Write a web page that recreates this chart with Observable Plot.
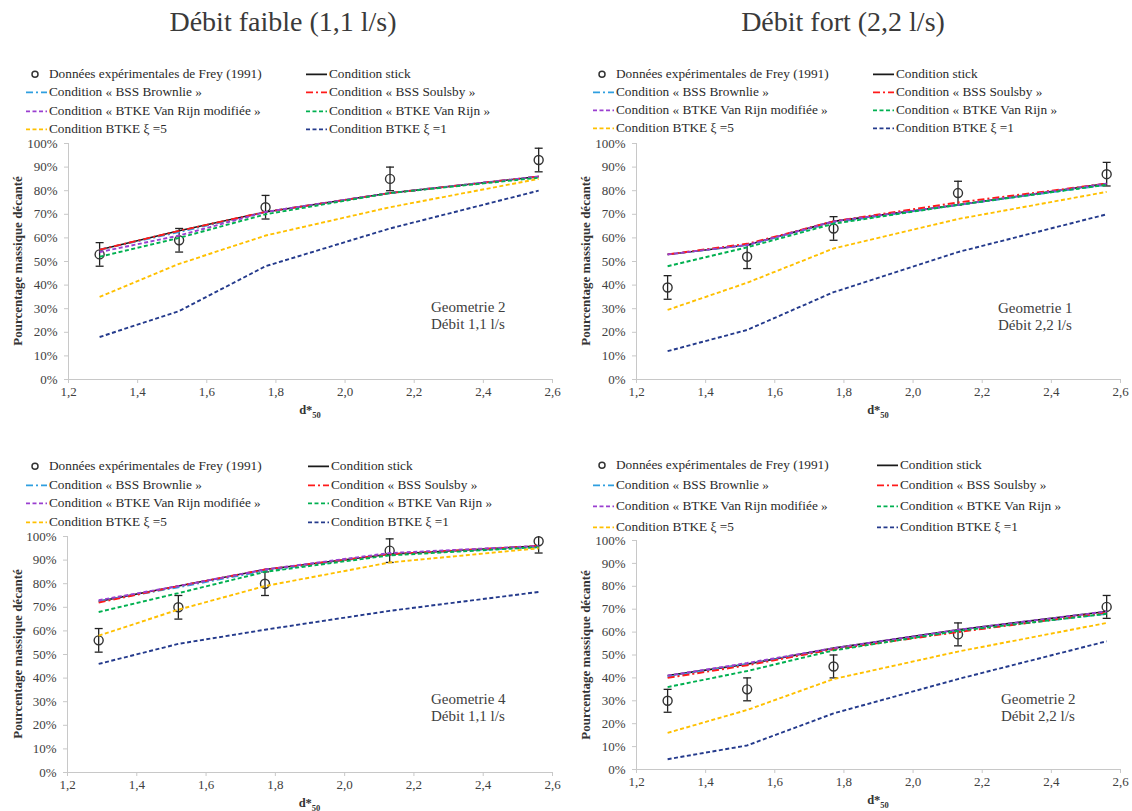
<!DOCTYPE html>
<html><head><meta charset="utf-8">
<script src="https://cdn.jsdelivr.net/npm/d3@7"></script>
<script src="https://cdn.jsdelivr.net/npm/@observablehq/plot@0.6"></script>
<style>
html,body{margin:0;padding:0;background:#fff;}
body{width:1132px;height:811px;position:relative;overflow:hidden;font-family:"Liberation Serif",serif;color:#333;}
.abs{position:absolute;white-space:nowrap;}
.title{font-size:28px;color:#3a3a3a;transform:translateX(-50%);line-height:1;}
.leg{font-size:13.3px;color:#2a2a2a;line-height:1;display:flex;align-items:center;transform:translateY(-50%);}
.leg svg{display:block;margin-right:1px;}
.ann{font-size:15px;color:#404040;line-height:17px;}
.ylab{font-size:13px;font-weight:bold;color:#333;transform:translate(-50%,-50%) rotate(-90deg);}
.xlab{font-size:12.5px;font-weight:bold;color:#333;transform:translateX(-50%);}
.xlab sub{font-size:8.5px;}
svg.chart text{font-size:13px !important;font-family:"Liberation Serif",serif !important;}
</style></head><body>
<script>
// ---- shared data ----
const xValues = [1.29, 1.52, 1.77, 2.13, 2.56];
const xTicks = [1.2, 1.4, 1.6, 1.8, 2.0, 2.2, 2.4, 2.6];
const yTicks = [0, 0.1, 0.2, 0.3, 0.4, 0.5, 0.6, 0.7, 0.8, 0.9, 1.0];
const errorPct = [5, 5, 5, 5, 5];
const titles = ["Débit faible (1,1 l/s)", "Débit fort (2,2 l/s)"];
const expName = "Données expérimentales de Frey (1991)";
const seriesNames = [
  "Condition stick",
  "Condition « BSS Brownlie »",
  "Condition « BSS Soulsby »",
  "Condition « BTKE Van Rijn modifiée »",
  "Condition « BTKE Van Rijn »",
  "Condition BTKE ξ =5",
  "Condition BTKE ξ =1"
];
const seriesColors = ["#1a1a1a", "#2f9fe0", "#ff1a1a", "#9a3fd0", "#00b050", "#ffc000", "#243a8c"];
const seriesDash = ["none", "7,3,2,3", "7,3,2,3", "4,2.5", "4,2.5", "4,2.5", "4,2.5"];
const seriesWidth = [1.6, 1.9, 1.9, 1.9, 1.9, 1.9, 1.9];
const yAxisLabel = "Pourcentage massique décanté";

// ---- Panel A : Geometrie 2, débit 1,1 l/s ----
const A_exp      = [53, 59, 73, 85, 93];
const A_stick    = [55, 63, 71, 79, 86];
const A_brownlie = [55, 62.5, 71, 79, 86];
const A_soulsby  = [55, 63, 71, 79, 86];
const A_vrmod    = [54, 61, 71, 79, 86];
const A_vr       = [52, 60, 70, 79, 85.5];
const A_xi5      = [35, 49, 61, 73, 85];
const A_xi1      = [18, 29, 48, 64, 80];
// ---- Panel B : Geometrie 1, débit 2,2 l/s ----
const B_exp      = [39, 52, 64, 79, 87];
const B_stick    = [53, 57, 67, 74, 83];
const B_brownlie = [53, 57, 66.5, 74, 82.5];
const B_soulsby  = [53, 57.5, 67, 75, 83];
const B_vrmod    = [53, 57, 67, 74, 83];
const B_vr       = [48, 56, 66, 74, 82.5];
const B_xi5      = [29.5, 41, 55.5, 68, 79.5];
const B_xi1      = [12, 21, 37, 54, 70];
// ---- Panel C : Geometrie 4, débit 1,1 l/s ----
const C_exp      = [56, 70, 80, 94, 98];
const C_stick    = [72.5, 79, 86, 92.5, 96];
const C_brownlie = [72.5, 78.5, 85.5, 92.5, 95.5];
const C_soulsby  = [72, 79, 86, 92.5, 96];
const C_vrmod    = [73, 79, 86, 93, 96];
const C_vr       = [68, 76, 85, 92, 95.5];
const C_xi5      = [58, 69, 79, 89, 95];
const C_xi1      = [46, 54.5, 60.5, 68.5, 76.5];
// ---- Panel D : Geometrie 2, débit 2,2 l/s ----
const D_exp      = [30, 35, 45, 59, 71];
const D_stick    = [41, 46, 53, 61, 69];
const D_brownlie = [40.5, 46, 52.5, 60.5, 68];
const D_soulsby  = [40, 45.5, 52.5, 60, 68.5];
const D_vrmod    = [41, 46.5, 53, 61, 69];
const D_vr       = [36, 43, 52, 60.5, 68];
const D_xi5      = [16, 26, 39.5, 51.5, 64];
const D_xi1      = [4.5, 10.5, 24.5, 39.5, 56];

const annotations = [
  ["Geometrie 2", "Débit 1,1 l/s"],
  ["Geometrie 1", "Débit 2,2 l/s"],
  ["Geometrie 4", "Débit 1,1 l/s"],
  ["Geometrie 2", "Débit 2,2 l/s"]
];

// ---- layout (pixels) ----
const panels = [
  {exp: A_exp, series: [A_stick, A_brownlie, A_soulsby, A_vrmod, A_vr, A_xi5, A_xi1],
   left: 0, pl: 68, pr: 552, pt: 143, pb: 379, legX1: 48, legX2: 328, legRows: [74, 92, 111, 129],
   annX: 431, annY: 299, ylabX: 18},
  {exp: B_exp, series: [B_stick, B_brownlie, B_soulsby, B_vrmod, B_vr, B_xi5, B_xi1],
   left: 566, pl: 636, pr: 1120, pt: 143, pb: 379, legX1: 615, legX2: 895, legRows: [74, 92, 110, 128],
   annX: 998, annY: 300, ylabX: 586},
  {exp: C_exp, series: [C_stick, C_brownlie, C_soulsby, C_vrmod, C_vr, C_xi5, C_xi1],
   left: 0, pl: 67, pr: 552, pt: 536, pb: 772, legX1: 48, legX2: 330, legRows: [466, 485, 503, 522],
   annX: 431, annY: 691, ylabX: 18},
  {exp: D_exp, series: [D_stick, D_brownlie, D_soulsby, D_vrmod, D_vr, D_xi5, D_xi1],
   left: 566, pl: 636, pr: 1120, pt: 540, pb: 769, legX1: 615, legX2: 899, legRows: [465, 485, 506, 527],
   annX: 1001, annY: 691, ylabX: 586}
];

const body = document.body;
function div(cls, x, y, html) {
  const d = document.createElement("div");
  d.className = "abs " + cls;
  d.style.left = x + "px"; d.style.top = y + "px";
  d.innerHTML = html;
  body.appendChild(d);
  return d;
}
function sample(i) {
  if (i < 0) return `<svg width="22" height="10"><circle cx="9" cy="5" r="3" fill="none" stroke="#333" stroke-width="1.5"/></svg>`;
  return `<svg width="22" height="10"><line x1="0" x2="21" y1="5" y2="5" stroke="${seriesColors[i]}" stroke-width="${seriesWidth[i]}" stroke-dasharray="${seriesDash[i]}"/></svg>`;
}

// titles
div("title", 283, 8, titles[0]);
div("title", 843, 8, titles[1]);

const fmtPct = d => Math.round(d * 100) + "%";
const fmtX = d => d3.format(".1f")(d).replace(".", ",");
const capSymbol = {draw(ctx, size) { const w = Math.sqrt(size) * 0.9; ctx.moveTo(-w, 0); ctx.lineTo(w, 0); }};

panels.forEach((p, pi) => {
  // legend
  const legendItems = [[-1, 0], [1, 2], [3, 4], [5, 6]];
  legendItems.forEach(([a, b], r) => {
    div("leg", p.legX1 - 22, p.legRows[r], sample(a) + (a < 0 ? expName : seriesNames[a]));
    div("leg", p.legX2 - 22, p.legRows[r], sample(b) + seriesNames[b]);
  });

  // data table
  const lines = [];
  p.series.forEach((vals, si) => vals.forEach((v, k) => lines.push({x: xValues[k], y: v / 100, s: si})));
  const exp = p.exp.map((v, k) => ({x: xValues[k], y: v / 100, lo: (v - errorPct[k]) / 100, hi: (v + errorPct[k]) / 100}));

  const svgTop = p.pt - 10, svgLeft = p.left;
  const width = 566;
  const mL = p.pl - svgLeft, mR = svgLeft + width - p.pr, mT = 10, mB = 30;
  const height = mT + (p.pb - p.pt) + mB;

  const marks = [
    Plot.ruleY([0], {stroke: "#c8c8c8", strokeWidth: 1}),
    Plot.ruleX([1.2], {stroke: "#c8c8c8", strokeWidth: 1}),
    Plot.axisX({ticks: xTicks, tickFormat: fmtX, tickSize: 4, tickPadding: 3, stroke: "#c8c8c8", fill: "#404040", fontSize: 13, label: null}),
    Plot.axisY({ticks: yTicks, tickFormat: fmtPct, tickSize: 4, tickPadding: 7, stroke: "#c8c8c8", fill: "#404040", fontSize: 13, label: null}),
  ];
  marks.push(Plot.ruleX(exp, {x: "x", y1: "lo", y2: "hi", stroke: "#222", strokeWidth: 1.3, clip: true}));
  marks.push(Plot.dot(exp, {x: "x", y: "hi", symbol: capSymbol, r: 2.5, stroke: "#222", strokeWidth: 1.3, clip: true}));
  marks.push(Plot.dot(exp, {x: "x", y: "lo", symbol: capSymbol, r: 2.5, stroke: "#222", strokeWidth: 1.3}));
  marks.push(Plot.dot(exp, {x: "x", y: "y", r: 4.5, stroke: "#333", strokeWidth: 1.4, fill: "none"}));
  for (let si = 0; si < seriesNames.length; si++) {
    marks.push(Plot.line(lines.filter(d => d.s === si), {
      x: "x", y: "y", stroke: seriesColors[si], strokeWidth: seriesWidth[si],
      strokeDasharray: seriesDash[si], strokeLinecap: "butt", strokeLinejoin: "miter"
    }));
  }

  const chart = Plot.plot({
    width, height, marginLeft: mL, marginRight: mR, marginTop: mT, marginBottom: mB,
    x: {domain: [1.2, 2.6], type: "linear"},
    y: {domain: [0, 1], type: "linear"},
    style: {fontFamily: "Liberation Serif, serif", fontSize: "13px", background: "transparent", overflow: "visible"},
    marks
  });
  chart.classList.add("chart");
  chart.style.position = "absolute";
  chart.style.left = svgLeft + "px";
  chart.style.top = svgTop + "px";
  body.appendChild(chart);

  // axis titles and annotation
  div("ylab", p.ylabX, (p.pt + p.pb) / 2, yAxisLabel);
  div("xlab", (p.pl + p.pr) / 2, p.pb + 24, "d*<sub>50</sub>");
  div("ann", p.annX, p.annY, annotations[pi][0] + "<br>" + annotations[pi][1]);
});
</script>
</body></html>
